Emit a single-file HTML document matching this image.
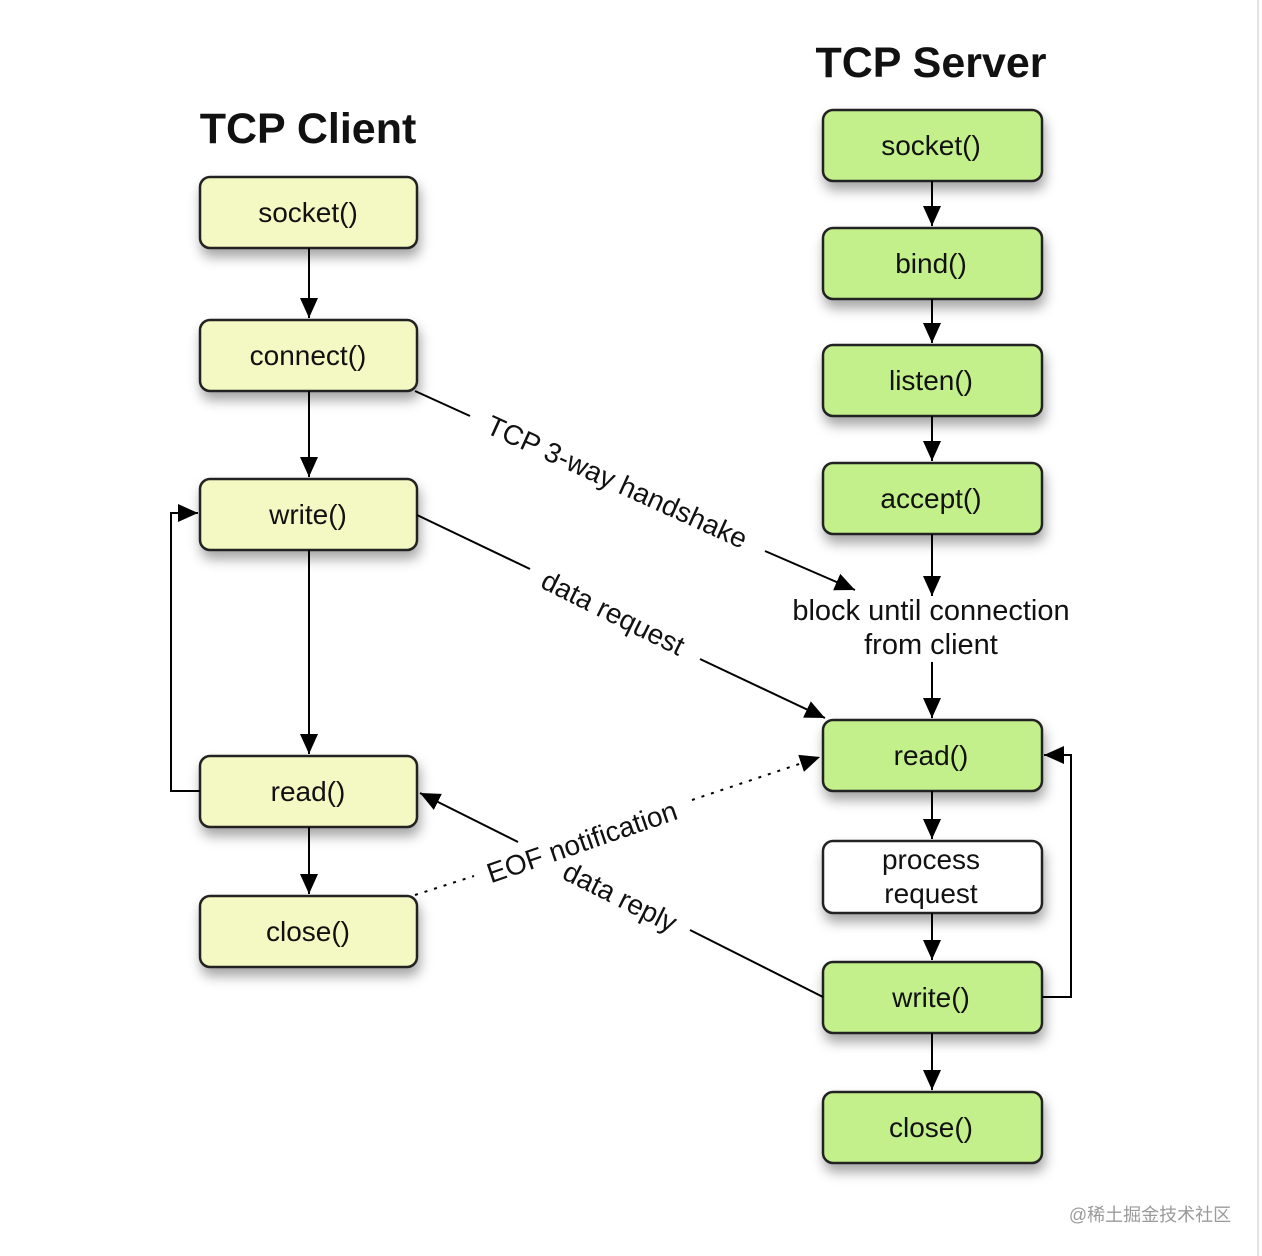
<!DOCTYPE html>
<html><head><meta charset="utf-8"><style>
html,body{margin:0;padding:0;background:#fff;}
svg{display:block;}
text{font-family:"Liberation Sans",Arial,sans-serif;fill:#111;}
</style></head><body>
<svg width="1262" height="1256" viewBox="0 0 1262 1256" xmlns="http://www.w3.org/2000/svg">
<defs>
<marker id="b" markerWidth="20" markerHeight="18" refX="20" refY="9" orient="auto" markerUnits="userSpaceOnUse"><path d="M0,0 L20,9 L0,18 z" fill="#000"/></marker>
<filter id="s" x="-20%" y="-30%" width="140%" height="180%"><feDropShadow dx="2" dy="8" stdDeviation="6" flood-color="#000" flood-opacity="0.35"/></filter>
</defs>
<line x1="1258" y1="0" x2="1258" y2="1256" stroke="#e4e4e4" stroke-width="2"/>
<text x="308" y="143" font-size="43" font-weight="bold" text-anchor="middle">TCP Client</text>
<text x="931" y="77" font-size="43" font-weight="bold" text-anchor="middle">TCP Server</text>
<g stroke="#222" stroke-width="2.5" filter="url(#s)">
<rect x="200" y="177" width="217" height="71" rx="10" fill="#f4f8c2"/>
<rect x="200" y="320" width="217" height="71" rx="10" fill="#f4f8c2"/>
<rect x="200" y="479" width="217" height="71" rx="10" fill="#f4f8c2"/>
<rect x="200" y="756" width="217" height="71" rx="10" fill="#f4f8c2"/>
<rect x="200" y="896" width="217" height="71" rx="10" fill="#f4f8c2"/>
<rect x="823" y="110" width="219" height="71" rx="10" fill="#c3f08a"/>
<rect x="823" y="228" width="219" height="71" rx="10" fill="#c3f08a"/>
<rect x="823" y="345" width="219" height="71" rx="10" fill="#c3f08a"/>
<rect x="823" y="463" width="219" height="71" rx="10" fill="#c3f08a"/>
<rect x="823" y="720" width="219" height="71" rx="10" fill="#c3f08a"/>
<rect x="823" y="841" width="219" height="72" rx="10" fill="#fff"/>
<rect x="823" y="962" width="219" height="71" rx="10" fill="#c3f08a"/>
<rect x="823" y="1092" width="219" height="71" rx="10" fill="#c3f08a"/>
</g>
<g font-size="28" text-anchor="middle">
<text x="308" y="222">socket()</text>
<text x="308" y="365">connect()</text>
<text x="308" y="524">write()</text>
<text x="308" y="801">read()</text>
<text x="308" y="941">close()</text>
<text x="931" y="155">socket()</text>
<text x="931" y="273">bind()</text>
<text x="931" y="390">listen()</text>
<text x="931" y="508">accept()</text>
<text x="931" y="620" font-size="29">block until connection</text>
<text x="931" y="654" font-size="29">from client</text>
<text x="931" y="765">read()</text>
<text x="931" y="869">process</text>
<text x="931" y="903">request</text>
<text x="931" y="1007">write()</text>
<text x="931" y="1137">close()</text>
</g>
<g stroke="#000" stroke-width="2" fill="none">
<line x1="309" y1="248" x2="309" y2="318" marker-end="url(#b)"/>
<line x1="309" y1="391" x2="309" y2="477" marker-end="url(#b)"/>
<line x1="309" y1="550" x2="309" y2="754" marker-end="url(#b)"/>
<line x1="309" y1="827" x2="309" y2="894" marker-end="url(#b)"/>
<polyline points="200,791 171,791 171,513 198,513" marker-end="url(#b)"/>
<line x1="932" y1="181" x2="932" y2="226" marker-end="url(#b)"/>
<line x1="932" y1="299" x2="932" y2="343" marker-end="url(#b)"/>
<line x1="932" y1="416" x2="932" y2="461" marker-end="url(#b)"/>
<line x1="932" y1="534" x2="932" y2="596" marker-end="url(#b)"/>
<line x1="932" y1="662" x2="932" y2="718" marker-end="url(#b)"/>
<line x1="932" y1="791" x2="932" y2="839" marker-end="url(#b)"/>
<line x1="932" y1="913" x2="932" y2="960" marker-end="url(#b)"/>
<line x1="932" y1="1033" x2="932" y2="1090" marker-end="url(#b)"/>
<polyline points="1042,997 1071,997 1071,755 1044,755" marker-end="url(#b)"/>
<line x1="415" y1="391" x2="470" y2="416"/>
<line x1="765" y1="551" x2="855" y2="590" marker-end="url(#b)"/>
<line x1="417" y1="515" x2="530" y2="569"/>
<line x1="700" y1="659" x2="825" y2="718" marker-end="url(#b)"/>
<line x1="823" y1="997" x2="690" y2="930"/>
<line x1="518" y1="842" x2="420" y2="793" marker-end="url(#b)"/>
<line x1="415" y1="895" x2="474" y2="876" stroke-dasharray="3,7"/>
<line x1="692" y1="800" x2="820" y2="757" stroke-dasharray="3,7" marker-end="url(#b)"/>
</g>
<g font-size="28" text-anchor="middle" dominant-baseline="central">
<text transform="translate(617,482) rotate(24.4)">TCP 3-way handshake</text>
<text transform="translate(613,613) rotate(26.4)">data request</text>
<text transform="translate(620,897) rotate(26.6)">data reply</text>
<text transform="translate(582,842) rotate(-19)">EOF notification</text>
</g>
<text x="1150" y="1221" font-size="18" text-anchor="middle" style="fill:#9a9a9a;font-family:'Liberation Sans','Noto Sans CJK SC',sans-serif">@稀土掘金技术社区</text>
</svg>
</body></html>
